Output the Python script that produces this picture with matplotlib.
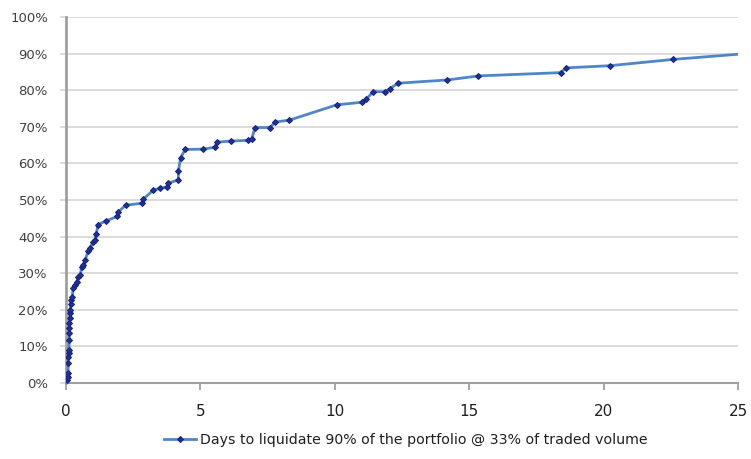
import matplotlib
matplotlib.use("Agg")
import matplotlib.pyplot as plt
from matplotlib.ticker import FuncFormatter

days = [0.05, 0.06, 0.07, 0.09, 0.09, 0.10, 0.11, 0.12, 0.12, 0.13, 0.13, 0.14, 0.14,
        0.16, 0.17, 0.19, 0.23, 0.27, 0.33, 0.40, 0.46, 0.53, 0.58, 0.64, 0.71, 0.83,
        0.88, 1.02, 1.08, 1.12, 1.20, 1.49, 1.91, 1.95, 2.23, 2.82, 2.88, 3.25, 3.50,
        3.77, 3.81, 4.18, 4.18, 4.27, 4.43, 5.10, 5.54, 5.62, 6.13, 6.78, 6.91, 7.03,
        7.59, 7.78, 8.30, 10.07, 11.00, 11.16, 11.43, 11.87, 12.05, 12.34, 14.19,
        15.34, 18.40, 18.60, 20.24, 22.57, 26.50]
share = [0.8, 1.7, 2.8, 5.5, 7.0, 8.2, 9.0, 11.7, 13.6, 15.0, 16.5, 17.8, 19.0,
         20.0, 21.5, 22.7, 23.6, 26.0, 26.8, 27.7, 28.9, 29.5, 31.6, 32.2, 33.6, 36.1,
         36.8, 38.6, 39.2, 40.7, 43.3, 44.3, 45.5, 46.8, 48.6, 49.1, 50.3, 52.7, 53.2,
         53.6, 54.6, 55.5, 58.0, 61.6, 63.8, 63.9, 64.4, 65.8, 66.1, 66.3, 66.7, 69.8,
         69.8, 71.3, 71.8, 76.0, 76.7, 77.5, 79.6, 79.6, 80.4, 81.9, 82.8, 83.9,
         84.8, 86.1, 86.7, 88.4, 90.7]
series_label = "Days to liquidate 90% of the portfolio @ 33% of traded volume"
x_ticks = [0, 5, 10, 15, 20, 25]
y_ticks = [0, 10, 20, 30, 40, 50, 60, 70, 80, 90, 100]

fig = plt.figure(figsize=(7.51, 4.59), dpi=100)
ax = fig.add_axes([66/751, 1-383/459, (738-66)/751, (383-17)/459])

ax.plot(days, share, color="#4F86C6", lw=2.0, marker="D", ms=3.0,
        mfc="#23308F", mec="#1A2580", mew=0.8, label=series_label, zorder=3)

ax.set_xlim(0, 25)
ax.set_ylim(0, 100)
ax.set_xticks(x_ticks)
ax.set_yticks(y_ticks)
ax.yaxis.set_major_formatter(FuncFormatter(lambda v, p: f"{int(v)}%"))
ax.grid(axis="y", color="#D9D9D9", lw=1.3, zorder=0)
ax.set_axisbelow(True)
for s in ["top", "right"]:
    ax.spines[s].set_visible(False)
ax.spines["left"].set_color("#A0A0A0")
ax.spines["left"].set_linewidth(2.0)
ax.spines["bottom"].set_color("#A0A0A0")
ax.spines["bottom"].set_linewidth(1.5)
ax.tick_params(axis="y", length=4, width=1.3, color="#D9D9D9", pad=9,
               labelsize=9.5, labelcolor="#404040")
ax.tick_params(axis="x", length=5, width=1.3, color="#A0A0A0", pad=10,
               labelsize=11, labelcolor="#202020")

fig.legend(loc="center", bbox_to_anchor=(0.54, 1-440/459), frameon=False,
           fontsize=10.2, handlelength=2.25, handletextpad=0.3, labelcolor="#202020")

fig.savefig("out.png", dpi=100)
